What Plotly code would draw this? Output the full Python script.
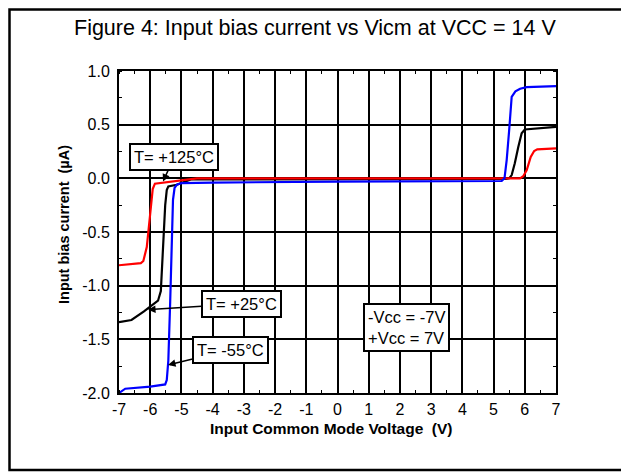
import plotly.graph_objects as go

# -- data (V in volts, I in µA) --
red_v = [-7, -6.6, -6.3, -6.22, -6.11, -6.0, -5.92, -5.85, -5.6, -5.3, -4.9, -4.5,
         5.85, 5.95, 6.06, 6.19, 6.3, 6.4, 7]
red_i = [-0.81, -0.80, -0.79, -0.77, -0.64, -0.33, -0.10, -0.05, -0.04, -0.035, -0.012, 0.0,
         0.0, 0.02, 0.075, 0.2, 0.255, 0.27, 0.28]

blk_v = [-7, -6.6, -6.2, -5.9, -5.75, -5.66, -5.58, -5.52, -5.47, -5.42, -5.15, -4.7,
         5.4, 5.5, 5.58, 5.68, 5.79, 5.9, 6.0, 6.5, 7]
blk_i = [-1.34, -1.32, -1.24, -1.17, -1.14, -1.05, -0.58, -0.25, -0.11, -0.075, -0.06, -0.01,
         -0.005, 0.0, 0.03, 0.14, 0.29, 0.42, 0.455, 0.47, 0.48]

blu_v = [-7, -6.8, -6.0, -5.52, -5.47, -5.42, -5.36, -5.31, -5.27, -5.22, -5.15, -5.0,
         -4.0, 0.0, 4.0, 5.26, 5.35, 5.42, 5.5, 5.58, 5.7, 5.85, 6.06, 6.5, 7]
blu_i = [-2.0, -1.96, -1.94, -1.92, -1.88, -1.70, -1.15, -0.58, -0.20, -0.09, -0.06, -0.045,
         -0.04, -0.03, -0.025, -0.025, 0.0, 0.17, 0.45, 0.76, 0.81, 0.835, 0.85, 0.855, 0.86]

x_ticks = list(range(-7, 8))
y_ticks = [-2.0, -1.5, -1.0, -0.5, 0.0, 0.5, 1.0]

FONT = "Arial, Liberation Sans, sans-serif"

# the page body adds an 8px offset, so pixel positions below are window
# positions and the plot box sits at x 119..556, y 71..393 of the window
PX0, PY0, PW, PH = 119, 71, 437, 322


def px(x):
    return (x - PX0) / PW


def py(y):
    return (PY0 + PH - y) / PH


fig = go.Figure()

for xs, ys, col in [(blk_v, blk_i, "black"), (red_v, red_i, "red"), (blu_v, blu_i, "blue")]:
    fig.add_trace(go.Scatter(x=xs, y=ys, mode="lines",
                             line=dict(color=col, width=2.2), showlegend=False))

# labels with arrows
box = dict(bordercolor="black", borderwidth=2, bgcolor="white", borderpad=3,
           font=dict(family=FONT, size=16.5, color="black"))
labels = [
    ("T= +125°C", -5.59, -0.03, -5.23, 0.20),
    ("T= +25°C", -6.07, -1.224, -3.09, -1.168),
    ("T= -55°C", -5.43, -1.738, -3.44, -1.598),
]
for txt, hx, hy, tx, ty in labels:
    fig.add_annotation(x=hx, y=hy, ax=tx, ay=ty, axref="x", ayref="y",
                       text=txt, showarrow=True, arrowhead=2, arrowsize=1,
                       arrowwidth=1.5, arrowcolor="black", **box)

fig.add_annotation(x=2.2, y=-1.393, text="-Vcc = -7V<br>+Vcc = 7V",
                   showarrow=False, align="left", **box)

# titles as annotations for exact placement
fig.add_annotation(xref="paper", yref="paper", x=px(315), y=py(28),
                   xanchor="center", yanchor="middle",
                   text="Figure 4: Input bias current vs Vicm at VCC = 14 V",
                   showarrow=False, font=dict(family=FONT, size=21.5, color="black"))
fig.add_annotation(xref="paper", yref="paper", x=px(331), y=py(428),
                   xanchor="center", yanchor="middle",
                   text="<b>Input Common Mode Voltage  (V)</b>",
                   showarrow=False, font=dict(family=FONT, size=15.5, color="black"))
fig.add_annotation(xref="paper", yref="paper", x=px(64), y=py(224),
                   xanchor="center", yanchor="middle",
                   text="<b>Input bias current  (µA)</b>", textangle=-90,
                   showarrow=False, font=dict(family=FONT, size=14.5, color="black"))

# outer frame
fig.add_shape(type="rect", xref="paper", yref="paper",
              x0=px(9.5), x1=px(627), y0=py(470), y1=py(9.5),
              line=dict(color="black", width=2.5), layer="above")

axis_common = dict(
    showgrid=True, gridcolor="black", gridwidth=2,
    showline=True, linecolor="black", linewidth=2, mirror="ticks",
    zeroline=False, ticks="", tickfont=dict(family=FONT, size=16, color="black"),
)

fig.update_layout(
    width=621, height=465,
    paper_bgcolor="white", plot_bgcolor="white",
    margin=dict(l=PX0 - 8, r=629 - 8 - (PX0 - 8) - PW, t=PY0 - 8, b=465 - (PY0 - 8) - PH),
    font=dict(family=FONT, color="black"),
    xaxis=dict(range=[-7, 7], tickvals=x_ticks, ticktext=[str(v) for v in x_ticks],
               minor=dict(dtick=0.5, ticks="inside", ticklen=3, tickcolor="black",
                          showgrid=False),
               ticklabelstandoff=1, **axis_common),
    yaxis=dict(range=[-2.0, 1.0], tickvals=y_ticks, ticktext=[f"{v:.1f}" for v in y_ticks],
               minor=dict(dtick=0.25, ticks="inside", ticklen=3, tickcolor="black",
                          showgrid=False),
               ticklabelstandoff=4, **axis_common),
)

fig.write_html("out.html")
